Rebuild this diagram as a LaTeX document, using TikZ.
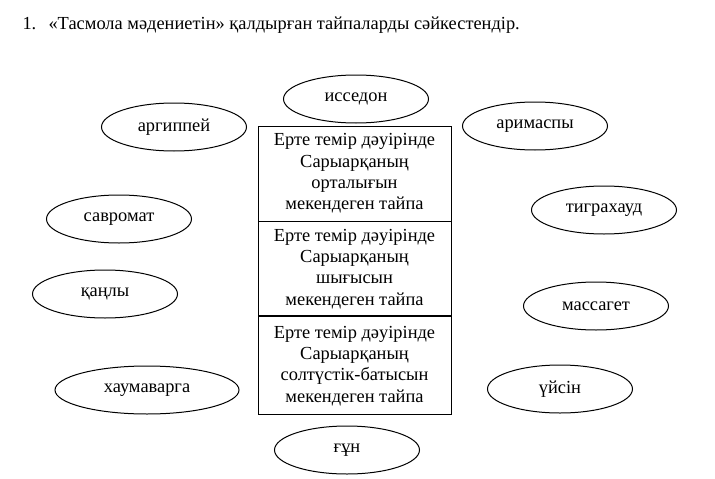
\documentclass[tikz,border=0pt]{standalone}
\usepackage{fontspec}
\setmainfont{Liberation Serif}
\usetikzlibrary{
  shapes.geometric,
  positioning
}
\tikzset{
  tribe/.style={draw, ellipse, line width=1pt, minimum width=145pt, minimum height=48pt, inner sep=0pt},
  cell/.style={draw, line width=0.9pt, minimum width=193pt, align=center, inner sep=0pt},
  every node/.style={font=\fontsize{18.4}{21.3}\selectfont}
}
\begin{document}
\begin{tikzpicture}[x=1pt, y=-1pt]
    \useasboundingbox (0,0) rectangle (715,479);
    \node[anchor=base west] (num) at (19,29) {1.};
    \node[anchor=base west] (task) at (45,29) {«Тасмола мәдениетін» қалдырған тайпаларды сәйкестендір.};

    % regions
    \node[cell, minimum height=95pt] (c1) at (354.5,173.5) {Ерте темір дәуірінде\\Сарыарқаның\\орталығын\\мекендеген тайпа};
    \node[cell, minimum height=94pt, below=0pt of c1] (c2) {Ерте темір дәуірінде\\Сарыарқаның\\шығысын\\мекендеген тайпа};
    \node[cell, minimum height=98pt, below=0pt of c2] (c3) {Ерте темір дәуірінде\\Сарыарқаның\\солтүстік-батысын\\мекендеген тайпа};

    % tribes
    \node[tribe] (issedon) at (356,99) {исседон};
    \node[tribe] (argippei) at (174,127) {аргиппей};
    \node[tribe] (arimaspy) at (535,126) {аримаспы};
    \node[tribe] (savromat) at (119,219) {савромат};
    \node[tribe] (tigrakhaud) at (604,210) {тиграхауд};
    \node[tribe] (kangly) at (105,294) {қаңлы};
    \node[tribe] (massaget) at (596,306) {массагет};
    \node[tribe, minimum width=184pt] (khaumavarga) at (147,390) {хаумаварга};
    \node[tribe] (uisin) at (560,389) {үйсін};
    \node[tribe] (gun) at (347,450) {ғұн};
\end{tikzpicture}
\end{document}
